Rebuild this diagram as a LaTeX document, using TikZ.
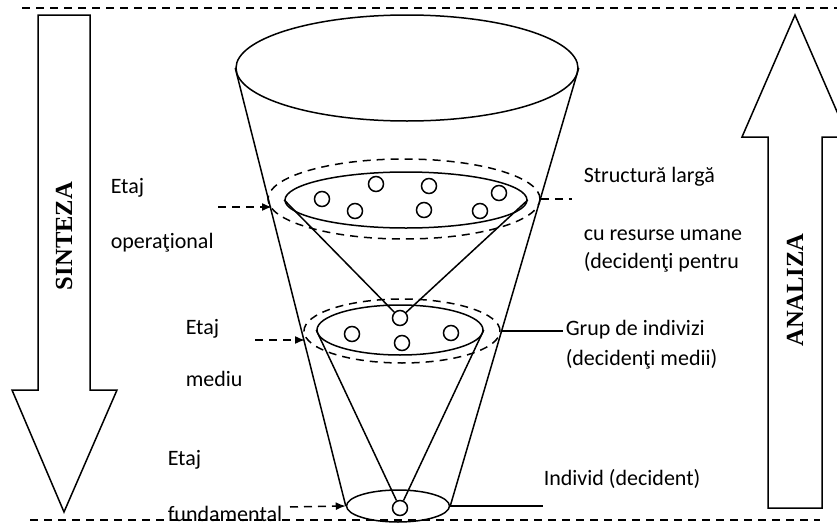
\documentclass[tikz,border=0pt]{standalone}
\usepackage{fontspec}
\setmainfont{Carlito}
\newfontfamily\headfont{Liberation Serif}
\usetikzlibrary{shapes.geometric, arrows.meta, positioning}
\tikzset{
x=0.5pt, y=-0.5pt, % one unit is one pixel of the reference
layer/.style={ellipse, draw, inner sep=0pt}, % solid ellipse of a level
band/.style={ellipse, draw, dash pattern=on 4pt off 3pt, inner sep=0pt}, % dashed ring round a level
person/.style={circle, draw, fill=white, minimum size=7.5pt, inner sep=0pt}, % one decident
guide/.style={dash pattern=on 4pt off 3pt}, % dashed lines
pointer/.style={guide, -{Latex[length=5pt,width=4pt]}}, % dashed arrows to the cone
lbl/.style={anchor=base west, inner sep=0pt, font=\fontsize{11}{13}\selectfont}, % side texts
bigword/.style={rotate=90, inner sep=0pt, font=\headfont\bfseries\fontsize{12.3}{14}\selectfont},
}

\begin{document}
\begin{tikzpicture}[line width=0.75pt]
\clip (0,0) rectangle (837,525);
\useasboundingbox (0,0) rectangle (837,525);

% limits
\draw[guide] (22,8) -- (837,8);
\draw[guide] (30,520) -- (820,520);

% big arrows
\draw (38,15) -- (90,15) -- (90,390) -- (117,390) -- (64,512) -- (12,390) -- (38,390) -- cycle;
\node[bigword] (sinteza) at (64,236) {SINTEZA};
\draw (768,508) -- (822,508) -- (822,137) -- (848,137) -- (795,15) -- (742,137) -- (768,137) -- cycle;
\node[bigword] (analiza) at (795,290) {ANALIZA};

% cone
\node[layer, minimum width=171pt, minimum height=53pt] (top) at (407,68) {};
\node[layer, minimum width=121pt, minimum height=28pt] (oper) at (406,200) {};
\node[band, minimum width=136pt, minimum height=40pt] (operband) at (404,199) {};
\node[layer, minimum width=83pt, minimum height=25pt] (mid) at (400,330) {};
\node[band, minimum width=98pt, minimum height=32pt] (midband) at (402,331) {};
\node[layer, minimum width=51.5pt, minimum height=16pt] (base) at (398,506) {};

% decidents
\node[person] (o1) at (322,199) {};
\node[person] (o2) at (355,211) {};
\node[person] (o3) at (376,184) {};
\node[person] (o4) at (429,186) {};
\node[person] (o5) at (424,210) {};
\node[person] (o6) at (480,211) {};
\node[person] (o7) at (499,193) {};
\node[person] (m1) at (400,318) {};
\node[person] (m2) at (352,334) {};
\node[person] (m3) at (402,343) {};
\node[person] (m4) at (451,333) {};
\node[person] (b1) at (400,508) {};

\draw (top.west) -- (base.west) (top.east) -- (base.east);
\draw (oper.west) -- (m1) -- (oper.east);
\draw (mid.west) -- (b1) -- (mid.east);

% left labels
\node[lbl] (etaj1) at (110,193) {Etaj};
\node[lbl] (oplbl) at (110,248) {operaţional};
\node[lbl] (etaj2) at (185,334) {Etaj};
\node[lbl] (midlbl) at (185,386) {mediu};
\node[lbl] (etaj3) at (167,465) {Etaj};
\node[lbl] (fundlbl) at (167,521) {fundamental};

\coordinate (opfrom) at (218,207);
\coordinate (opto) at (272,207);
\coordinate (midfrom) at (255,340);
\coordinate (midto) at (305,340);
\coordinate (basefrom) at (290,507);
\draw[pointer] (opfrom) -- (opto);
\draw[pointer] (midfrom) -- (midto);
\draw[pointer] (basefrom) -- (base.west);

% right labels
\node[lbl] (struct) at (583,182) {Structură largă};
\node[lbl] (resurse) at (583,240) {cu resurse umane};
\node[lbl] (decpentru) at (583,268) {(decidenţi pentru};
\node[lbl] (grup) at (565,335) {Grup de indivizi};
\node[lbl] (decmedii) at (565,365) {(decidenţi medii)};
\node[lbl] (individ) at (543,485) {Individ (decident)};

\coordinate (opend) at (572,199);
\coordinate (midend) at (563,331);
\coordinate (baseend) at (543,506);
\draw[guide] (operband.east) -- (opend);
\draw (midband.east) -- (midend);
\draw (base.east) -- (baseend);
\end{tikzpicture}
\end{document}
